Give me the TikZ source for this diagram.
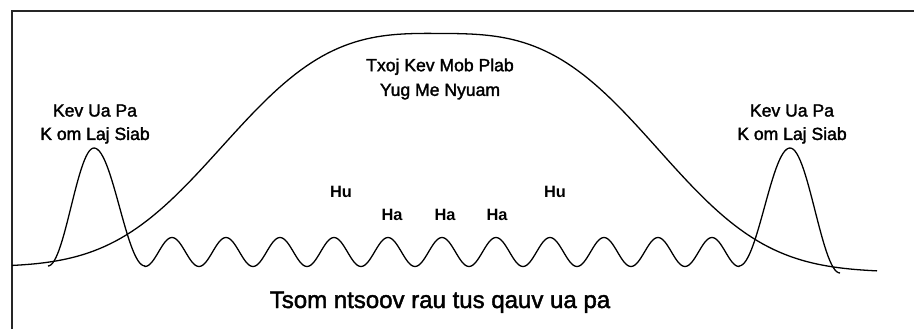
\documentclass[tikz,border=0pt]{standalone}
\usepackage{fontspec}
\setmainfont{Liberation Sans}
\newfontfamily\heavysans{Liberation Sans}[FakeBold=1.8]
\usepackage{tikz}
\usetikzlibrary{positioning}

\begin{document}
\begin{tikzpicture}[x=0.03cm, y=-0.03cm, every node/.style={font=\heavysans\fontsize{15}{20}\selectfont, align=center, inner sep=0pt},
    curve/.style={line width=1.1pt, line join=round}, beat/.style={font=\bfseries\fontsize{14}{16}\selectfont, anchor=base}]
    \useasboundingbox (0,0) rectangle (914,329);
    \draw[line width=1.8pt, black!85] (12,329) -- (12,11) -- (914,11);
    % big bell
    \draw[curve] plot[domain=12:877, samples=160] (\x, {267+5*(\x-12)/865-236*exp(-pow(abs(\x-440)/250,3))});
    % bumps and waves
    \draw[curve] plot[domain=48:94, samples=30] (\x, {266-118*(1-cos((\x-48)/46*180))/2})
        -- plot[domain=94:145, samples=30] (\x, {266-118*(1+cos((\x-94)/51*180))/2})
        -- plot[domain=145:739, samples=331] (\x, {252+14.5*cos((\x-145)/54*360)})
        -- plot[domain=739:790, samples=30] (\x, {266-118*(1-cos((\x-739)/51*180))/2})
        -- plot[domain=790:840, samples=30] (\x, {273-125*(1+cos((\x-790)/50*180))/2});
    \node (leftpeak) at (95,124) {Kev Ua Pa\\K om Laj Siab};
    \node (rightpeak) at (792,124) {Kev Ua Pa\\K om Laj Siab};
    \node[font=\heavysans\fontsize{15}{21}\selectfont] (bigpeak) at (440,79) {Txoj Kev Mob Plab\\Yug Me Nyuam};
    \node[beat] (hu1) at (341,197) {Hu};
    \node[beat] (hu2) at (555,197) {Hu};
    \foreach \hx [count=\i] in {392,445,497}
        \node[beat] (ha\i) at (\hx,220) {Ha};
    \node[font=\heavysans\fontsize{20.5}{22}\selectfont, anchor=base] (caption) at (440,308) {Tsom ntsoov rau tus qauv ua pa};
\end{tikzpicture}
\end{document}
